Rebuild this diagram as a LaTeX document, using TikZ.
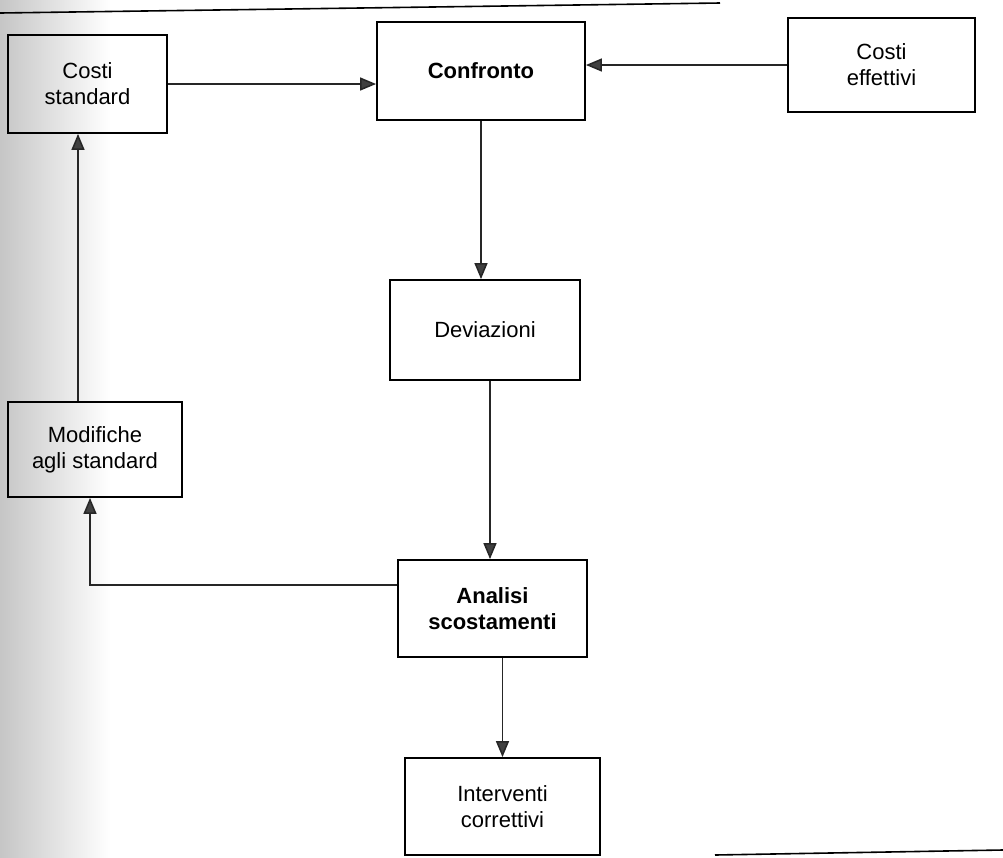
\documentclass[tikz,border=0pt]{standalone}
\usepackage{fontspec}
\setmainfont{Liberation Sans}
\usetikzlibrary{arrows.meta}

\tikzset{
  blocco/.style={draw, line width=0.9pt, rectangle, align=center,
    font=\fontsize{11}{13}\selectfont, inner sep=2pt},
  freccia/.style={line width=0.75pt, draw=black!85,
    -{Triangle[length=8pt, width=6.5pt, fill=black!75]}},
}

\begin{document}
\begin{tikzpicture}[x=0.5pt, y=-0.5pt]
    \useasboundingbox (0,0) rectangle (1003,858);

    % Ombra della scansione sul bordo sinistro
    \shade[left color=gray!45, right color=white] (0,0) rectangle (110,858);

    % Filetti della pagina
    \draw[line width=0.8pt] (0,13) -- (720,3);
    \draw[line width=0.8pt] (715,855) -- (1003,850);

    % Blocchi
    \node[blocco, minimum width=79.5pt, minimum height=49pt] (cs) at (87.5,84) {Costi\\standard};
    \node[blocco, minimum width=104pt, minimum height=49pt] (conf) at (481,71) {\textbf{Confronto}};
    \node[blocco, minimum width=93.5pt, minimum height=47pt] (ce) at (881.5,65) {Costi\\effettivi};
    \node[blocco, minimum width=95pt, minimum height=50pt] (dev) at (485,330) {Deviazioni};
    \node[blocco, minimum width=87pt, minimum height=47.5pt] (mod) at (95,449.5) {Modifiche\\agli standard};
    \node[blocco, minimum width=94.5pt, minimum height=48.5pt] (an) at (492.5,608.5) {\textbf{Analisi}\\\textbf{scostamenti}};
    \node[blocco, minimum width=97.5pt, minimum height=48.5pt] (int) at (502.5,806.5) {Interventi\\correttivi};

    % Gomito del ritorno verso le modifiche
    \coordinate (gomito) at (90,585);

    % Frecce
    \draw[freccia] (cs.east) -- (cs.east -| conf.west);
    \draw[freccia] (ce.west) -- (ce.west -| conf.east);
    \draw[freccia] (conf.south) -- (conf.south |- dev.north);
    \draw[freccia] ([xshift=2.5pt]dev.south) -- ([xshift=2.5pt]dev.south |- an.north);
    \draw[freccia] (int.north |- an.south) -- (int.north);
    \draw[freccia] (an.west |- gomito) -- (gomito) -- (gomito |- mod.south);
    \draw[freccia] ([xshift=-8.5pt]mod.north) -- ([xshift=-8.5pt]mod.north |- cs.south);
\end{tikzpicture}
\end{document}
